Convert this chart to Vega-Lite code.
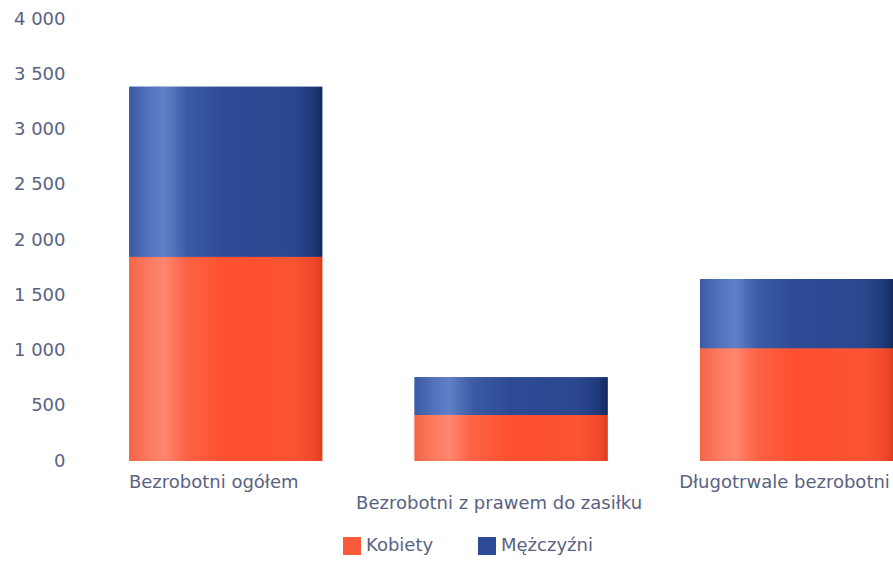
{
  "$schema": "https://vega.github.io/schema/vega-lite/v6.json",
  "autosize": {"type": "none"},
  "padding": {"left": 83, "top": 19, "right": 0, "bottom": 101},
  "width": 810,
  "height": 442,
  "background": "white",
  "config": {
    "view": {"stroke": null},
    "font": "DejaVu Sans",
    "axis": {"labelFont": "DejaVu Sans", "labelColor": "#5a6282", "labelFontSize": 18}
  },
  "data": {
    "values": [
      {"cat": "Bezrobotni ogółem", "sex": "Kobiety", "value": 1849},
      {"cat": "Bezrobotni ogółem", "sex": "Mężczyźni", "value": 1538},
      {"cat": "Bezrobotni z prawem do zasiłku", "sex": "Kobiety", "value": 416},
      {"cat": "Bezrobotni z prawem do zasiłku", "sex": "Mężczyźni", "value": 341},
      {"cat": "Długotrwale bezrobotni", "sex": "Kobiety", "value": 1020},
      {"cat": "Długotrwale bezrobotni", "sex": "Mężczyźni", "value": 627}
    ]
  },
  "transform": [
    {"stack": "value", "groupby": ["cat"], "sort": [{"field": "sex", "order": "ascending"}], "as": ["v0", "v1"]}
  ],
  "encoding": {
    "x": {
      "field": "cat",
      "type": "nominal",
      "sort": null,
      "title": null,
      "scale": {"paddingInner": 0.3236, "paddingOuter": 0.081, "align": 1},
      "axis": {
        "labelAngle": 0,
        "domain": false,
        "ticks": false,
        "labelBaseline": "top",
        "labelOverlap": false,
        "labelLimit": 400,
        "labelPadding": {"condition": {"test": "datum.value === 'Bezrobotni z prawem do zasiłku'", "value": 33}, "value": 12},
        "labelOffset": -12
      }
    },
    "y": {
      "field": "v1",
      "type": "quantitative",
      "title": null,
      "scale": {"domain": [0, 4000], "nice": false},
      "axis": {
        "values": [0, 500, 1000, 1500, 2000, 2500, 3000, 3500, 4000],
        "grid": false,
        "domain": false,
        "ticks": false,
        "labelPadding": 18,
        "labelExpr": "replace(format(datum.value, ','), ',', ' ')"
      }
    },
    "y2": {"field": "v0"}
  },
  "layer": [
    {
      "mark": {"type": "bar"},
      "encoding": {
        "color": {
          "field": "sex",
          "type": "nominal",
          "scale": {"domain": ["Kobiety", "Mężczyźni"], "range": ["#fb5a3a", "#2c4a96"]},
          "legend": {
            "title": null,
            "orient": "none",
            "direction": "horizontal",
            "legendX": 260,
            "legendY": 518,
            "symbolType": "square",
            "symbolSize": 324,
            "symbolStrokeWidth": 0,
            "labelFont": "DejaVu Sans",
            "labelFontSize": 18,
            "labelColor": "#5a6282",
            "labelOffset": 5,
            "columnPadding": 44
          }
        }
      }
    },
    {
      "transform": [{"filter": "datum.sex === 'Kobiety'"}],
      "mark": {
        "type": "bar",
        "fill": {
          "gradient": "linear", "x1": 0, "y1": 0, "x2": 1, "y2": 0,
          "stops": [
            {"offset": 0, "color": "#f56446"},
            {"offset": 0.1, "color": "#fc7a60"},
            {"offset": 0.18, "color": "#ff8670"},
            {"offset": 0.3, "color": "#fd6244"},
            {"offset": 0.5, "color": "#ff4f2e"},
            {"offset": 0.85, "color": "#fb5433"},
            {"offset": 0.96, "color": "#f0482a"},
            {"offset": 1, "color": "#dc3d1d"}
          ]
        }
      }
    },
    {
      "transform": [{"filter": "datum.sex === 'Mężczyźni'"}],
      "mark": {
        "type": "bar",
        "fill": {
          "gradient": "linear", "x1": 0, "y1": 0, "x2": 1, "y2": 0,
          "stops": [
            {"offset": 0, "color": "#3a5aa6"},
            {"offset": 0.1, "color": "#5272bd"},
            {"offset": 0.18, "color": "#6080c8"},
            {"offset": 0.3, "color": "#3c5ba5"},
            {"offset": 0.5, "color": "#2d4b95"},
            {"offset": 0.85, "color": "#2a478f"},
            {"offset": 0.95, "color": "#203a7a"},
            {"offset": 1, "color": "#152b5e"}
          ]
        }
      }
    }
  ]
}
